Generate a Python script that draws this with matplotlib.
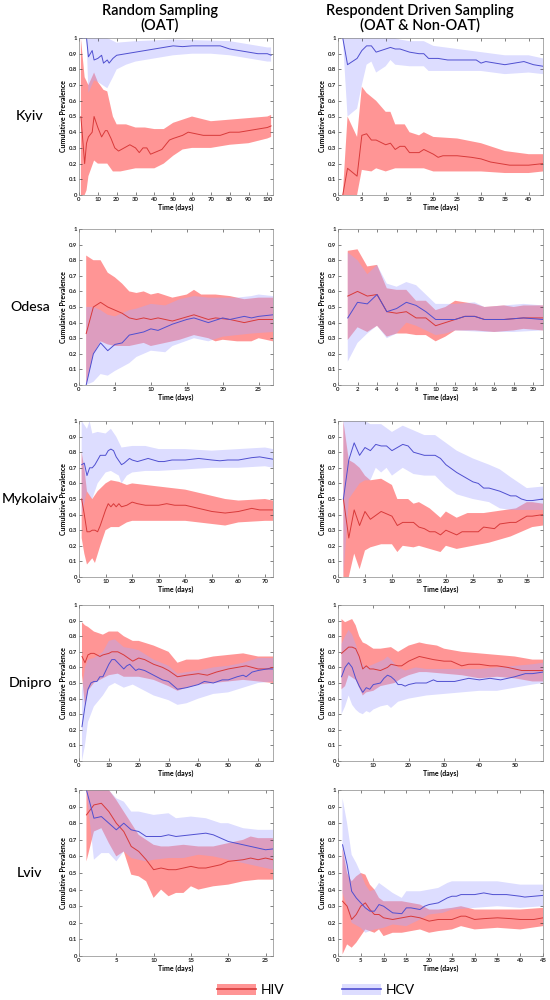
import numpy as np
import matplotlib
matplotlib.use('Agg')
import matplotlib.pyplot as plt
from matplotlib.patches import Patch
from matplotlib.lines import Line2D

plt.rcParams['font.family'] = ['Lato', 'DejaVu Sans']

# each series is a list of (day, value)
# ---- Kyiv, random sampling
kyiv_rs_hiv = [(1, .5), (3, .2), (4, .33), (5, .37), (7, .4), (8, .5), (10, .43), (12, .37), (14, .41), (15, .41), (17, .36), (19, .3), (21, .28), (24, .3), (27, .32), (30, .3), (32, .27), (34, .3), (36, .3), (38, .26), (40, .27), (44, .29), (46, .32), (48, .35), (50, .36), (55, .38), (58, .4), (62, .39), (66, .38), (70, .38), (75, .38), (80, .4), (85, .4), (90, .41), (95, .42), (100, .43), (102, .44)]
kyiv_rs_hiv_lo = [(1, 0), (3, 0), (4, .03), (5, .12), (8, .22), (10, .2), (15, .2), (18, .15), (22, .15), (30, .17), (35, .17), (40, .17), (45, .2), (50, .25), (55, .29), (60, .3), (70, .3), (80, .32), (90, .33), (100, .36), (102, .37)]
kyiv_rs_hiv_hi = [(1, 1), (3, .75), (5, .7), (8, .78), (10, .72), (13, .67), (15, .66), (18, .5), (20, .45), (25, .45), (30, .43), (35, .43), (40, .42), (45, .42), (50, .46), (55, .48), (60, .5), (70, .47), (80, .48), (90, .49), (100, .5), (102, .51)]
kyiv_rs_hcv = [(1, 1), (4, 1), (5, .88), (7, .92), (8, .86), (10, .87), (12, .89), (13, .84), (15, .86), (16, .84), (18, .87), (20, .89), (25, .9), (30, .91), (35, .92), (40, .93), (45, .94), (50, .95), (55, .945), (60, .95), (70, .95), (75, .95), (80, .93), (85, .92), (90, .91), (95, .9), (100, .9), (102, .89)]
kyiv_rs_hcv_lo = [(1, 1), (4, 1), (5, .65), (8, .73), (10, .72), (15, .68), (18, .75), (20, .8), (25, .83), (30, .85), (40, .87), (50, .89), (60, .9), (70, .9), (80, .89), (90, .87), (100, .85), (102, .85)]
kyiv_rs_hcv_hi = [(1, 1), (15, 1), (20, .97), (30, .98), (50, .99), (80, .98), (90, .96), (100, .94), (102, .94)]

# ---- Kyiv, respondent driven sampling
kyiv_rds_hiv = [(1, 0), (2, .17), (4, .12), (5, .38), (6, .39), (7, .35), (8, .35), (10, .32), (11, .33), (12, .29), (13, .31), (14, .31), (15, .27), (17, .27), (18, .29), (20, .26), (21, .24), (22, .25), (25, .25), (28, .24), (30, .23), (32, .21), (34, .2), (36, .19), (37, .19), (40, .19), (43, .2)]
kyiv_rds_hiv_lo = [(1, 0), (2, 0), (4, 0), (5, .16), (7, .15), (8, .17), (10, .15), (12, .17), (15, .17), (18, .17), (20, .15), (25, .15), (30, .15), (35, .14), (40, .14), (43, .15)]
kyiv_rds_hiv_hi = [(1, 0), (2, .5), (4, .37), (5, .69), (6, .65), (8, .6), (10, .53), (11, .53), (12, .45), (14, .45), (15, .4), (17, .38), (18, .4), (20, .37), (25, .36), (30, .33), (33, .3), (35, .28), (40, .26), (43, .26)]
kyiv_rds_hcv = [(1, 1), (2, .83), (4, .87), (5, .92), (6, .95), (7, .95), (8, .91), (10, .93), (11, .94), (12, .93), (13, .93), (15, .91), (17, .9), (18, .9), (19, .87), (21, .87), (23, .86), (25, .86), (27, .86), (29, .86), (30, .84), (31, .85), (33, .84), (35, .83), (37, .84), (39, .85), (41, .83), (43, .82)]
kyiv_rds_hcv_lo = [(1, 1), (2, .5), (4, .55), (5, .7), (6, .83), (7, .85), (8, .78), (10, .82), (11, .86), (12, .83), (15, .82), (18, .82), (19, .79), (22, .79), (25, .79), (30, .79), (35, .77), (40, .78), (43, .77)]
kyiv_rds_hcv_hi = [(1, 1), (12, 1), (13, .99), (15, .98), (18, .98), (20, .95), (25, .93), (30, .91), (35, .89), (40, .89), (43, .87)]

# ---- Odesa, random sampling
odesa_rs_hiv = [(1, .33), (2, .5), (3, .53), (4, .5), (5, .48), (6, .46), (7, .43), (8, .42), (9, .43), (10, .42), (11, .43), (13, .41), (16, .45), (18, .42), (19, .43), (21, .42), (23, .4), (25, .42), (27, .42)]
odesa_rs_hiv_lo = [(1, 0), (2, .2), (3, .28), (4, .26), (5, .25), (7, .25), (9, .27), (10, .25), (12, .27), (14, .29), (16, .32), (18, .3), (19, .28), (20, .29), (22, .28), (24, .28), (25, .3), (27, .28)]
odesa_rs_hiv_hi = [(1, .83), (2, .8), (3, .8), (4, .72), (5, .69), (6, .65), (7, .6), (8, .59), (9, .6), (10, .58), (11, .59), (13, .56), (15, .58), (16, .61), (17, .58), (19, .58), (21, .57), (23, .55), (25, .56), (27, .56)]
odesa_rs_hcv = [(1, 0), (2, .2), (3, .27), (4, .22), (5, .26), (6, .27), (7, .32), (8, .33), (9, .34), (10, .36), (11, .35), (12, .37), (13, .39), (15, .42), (16, .43), (18, .4), (20, .43), (21, .42), (23, .44), (24, .43), (25, .44), (27, .45)]
odesa_rs_hcv_lo = [(1, 0), (2, .02), (3, .07), (4, .06), (5, .09), (7, .14), (8, .18), (10, .22), (12, .21), (13, .25), (16, .3), (18, .28), (20, .31), (22, .32), (24, .33), (27, .34)]
odesa_rs_hcv_hi = [(1, .5), (2, .5), (3, .48), (4, .45), (5, .44), (7, .48), (8, .49), (10, .52), (12, .51), (14, .55), (16, .57), (18, .56), (20, .56), (22, .56), (24, .57), (25, .58), (27, .57)]

# ---- Odesa, respondent driven sampling
odesa_rds_hiv = [(1, .57), (2, .6), (3, .57), (4, .58), (5, .47), (6, .46), (7, .47), (8, .43), (9, .43), (10, .38), (11, .4), (12, .42), (13, .44), (14, .44), (15, .42), (17, .42), (19, .43), (21, .43)]
odesa_rds_hiv_lo = [(1, .29), (2, .37), (3, .34), (4, .38), (5, .31), (6, .33), (7, .33), (8, .32), (9, .32), (10, .28), (11, .31), (12, .35), (14, .35), (16, .34), (18, .35), (19, .36), (21, .35)]
odesa_rds_hiv_hi = [(1, .86), (2, .87), (3, .76), (4, .77), (5, .62), (6, .61), (7, .61), (8, .54), (9, .54), (10, .48), (11, .5), (12, .54), (14, .52), (15, .5), (17, .51), (18, .5), (19, .51), (21, .51)]
odesa_rds_hcv = [(1, .43), (2, .53), (3, .52), (4, .58), (5, .47), (6, .49), (7, .53), (8, .51), (9, .47), (10, .42), (11, .42), (12, .42), (13, .44), (14, .44), (15, .42), (17, .42), (19, .43), (21, .42)]
odesa_rds_hcv_lo = [(1, .15), (2, .27), (3, .33), (4, .38), (5, .3), (6, .33), (7, .4), (8, .38), (9, .35), (10, .32), (11, .33), (12, .35), (15, .34), (18, .34), (21, .35)]
odesa_rds_hcv_hi = [(1, .85), (2, .8), (3, .71), (4, .77), (5, .65), (6, .63), (7, .66), (8, .64), (9, .58), (10, .52), (11, .52), (12, .52), (14, .53), (15, .5), (17, .51), (19, .52), (21, .51)]

# ---- Mykolaiv, random sampling
myk_rs_hiv = [(1, .5), (2, .4), (3, .29), (4, .29), (5, .3), (6, .3), (7, .29), (8, .33), (9, .38), (10, .43), (11, .47), (12, .45), (13, .47), (14, .45), (15, .47), (16, .45), (18, .46), (20, .48), (22, .47), (25, .46), (30, .46), (33, .47), (36, .46), (40, .46), (45, .44), (50, .42), (55, .41), (60, .42), (65, .44), (68, .43), (73, .43)]
myk_rs_hiv_lo = [(1, .25), (2, .15), (3, .08), (5, .12), (6, .09), (8, .2), (10, .3), (12, .32), (15, .32), (18, .35), (20, .36), (30, .36), (40, .36), (50, .34), (55, .33), (60, .35), (70, .36), (73, .36)]
myk_rs_hiv_hi = [(1, .8), (2, .7), (3, .55), (5, .5), (7, .55), (10, .6), (12, .62), (15, .61), (18, .59), (20, .6), (30, .58), (40, .56), (50, .52), (55, .5), (60, .49), (70, .5), (73, .49)]
myk_rs_hcv = [(1, .72), (2, .73), (3, .65), (4, .7), (5, .7), (6, .72), (8, .78), (10, .78), (11, .81), (12, .82), (13, .81), (14, .77), (16, .72), (17, .73), (19, .76), (20, .75), (22, .74), (24, .75), (26, .76), (28, .75), (30, .74), (32, .74), (35, .75), (40, .75), (45, .76), (50, .75), (53, .745), (56, .75), (60, .75), (65, .765), (68, .77), (73, .755)]
myk_rs_hcv_lo = [(1, .4), (3, .55), (4, .52), (5, .5), (7, .6), (10, .67), (12, .68), (15, .65), (16, .6), (18, .65), (20, .67), (25, .68), (30, .68), (40, .69), (50, .7), (60, .7), (70, .71), (73, .7)]
myk_rs_hcv_hi = [(1, 1), (3, .95), (4, 1), (5, .92), (7, .93), (10, .92), (12, .95), (14, .9), (16, .83), (20, .84), (25, .84), (30, .82), (40, .82), (50, .81), (60, .82), (70, .83), (73, .82)]

# ---- Mykolaiv, respondent driven sampling
myk_rds_hiv = [(1, .5), (2, .25), (3, .43), (4, .33), (5, .42), (6, .37), (8, .42), (10, .39), (11, .33), (12, .35), (14, .35), (15, .32), (16, .31), (17, .29), (18, .29), (19, .27), (20, .3), (22, .27), (23, .29), (26, .29), (27, .32), (29, .31), (30, .34), (32, .35), (33, .35), (34, .37), (35, .39), (36, .39), (38, .4)]
myk_rds_hiv_lo = [(1, 0), (2, 0), (3, .15), (4, .05), (5, .17), (6, .19), (8, .21), (10, .21), (11, .16), (12, .2), (14, .19), (15, .2), (17, .18), (19, .16), (20, .2), (22, .18), (25, .2), (28, .22), (30, .24), (32, .26), (34, .29), (36, .32), (38, .33)]
myk_rds_hiv_hi = [(1, 1), (2, .75), (3, .73), (4, .7), (5, .65), (6, .62), (8, .63), (10, .59), (11, .5), (13, .5), (14, .47), (15, .48), (17, .44), (19, .38), (20, .42), (22, .38), (24, .41), (27, .41), (29, .42), (31, .43), (33, .44), (35, .48), (36, .48), (38, .47)]
myk_rds_hcv = [(1, .5), (2, .75), (3, .86), (4, .78), (5, .83), (6, .81), (7, .85), (8, .84), (9, .84), (10, .81), (12, .85), (13, .84), (14, .8), (16, .78), (18, .78), (19, .76), (20, .72), (22, .67), (24, .63), (25, .61), (26, .6), (27, .57), (28, .57), (29, .56), (30, .55), (32, .52), (33, .52), (34, .5), (35, .49), (36, .49), (38, .5)]
myk_rds_hcv_lo = [(1, 0), (2, .5), (3, .55), (4, .6), (5, .62), (6, .62), (7, .7), (8, .67), (9, .7), (10, .65), (12, .7), (14, .66), (16, .65), (18, .65), (20, .58), (22, .53), (25, .5), (28, .48), (30, .44), (32, .43), (35, .43), (38, .43)]
myk_rds_hcv_hi = [(1, 1), (5, 1), (6, .98), (8, .98), (10, .93), (12, .97), (14, .94), (16, .91), (18, .91), (20, .86), (22, .81), (25, .76), (28, .72), (30, .69), (32, .64), (35, .57), (38, .58)]

# ---- Dnipro, random sampling
dnipro_rs_hiv = [(1, .67), (2, .63), (3, .68), (4, .69), (5, .69), (6, .68), (7, .67), (8, .68), (10, .69), (11, .7), (13, .7), (15, .68), (18, .64), (20, .66), (22, .65), (25, .62), (28, .6), (30, .58), (33, .54), (36, .55), (40, .56), (43, .55), (46, .57), (50, .59), (53, .6), (56, .61), (60, .59), (63, .59), (65, .6)]
dnipro_rs_hiv_lo = [(1, .55), (2, .35), (3, .45), (5, .5), (8, .53), (10, .55), (13, .56), (15, .54), (18, .54), (20, .54), (25, .52), (30, .48), (33, .45), (36, .47), (40, .49), (45, .5), (50, .51), (55, .52), (60, .51), (65, .5)]
dnipro_rs_hiv_hi = [(1, .89), (2, .87), (3, .86), (5, .83), (8, .81), (10, .83), (13, .83), (15, .8), (18, .77), (20, .77), (25, .74), (30, .7), (33, .63), (36, .65), (40, .65), (45, .67), (50, .68), (55, .69), (60, .67), (65, .67)]
dnipro_rs_hcv = [(1, .22), (2, .35), (3, .46), (4, .5), (5, .51), (6, .51), (7, .54), (8, .54), (9, .58), (10, .62), (11, .65), (12, .65), (13, .63), (14, .61), (15, .59), (16, .61), (17, .62), (18, .6), (19, .58), (20, .59), (22, .58), (25, .55), (28, .52), (30, .51), (33, .46), (36, .47), (40, .49), (42, .51), (45, .5), (48, .52), (50, .52), (53, .54), (55, .55), (56, .54), (58, .57), (60, .58), (63, .59), (65, .59)]
dnipro_rs_hcv_lo = [(1, 0), (2, .1), (3, .25), (5, .35), (8, .42), (10, .48), (12, .5), (15, .47), (18, .49), (20, .47), (25, .42), (30, .39), (33, .36), (36, .37), (40, .4), (45, .43), (50, .44), (55, .47), (60, .5), (65, .51)]
dnipro_rs_hcv_hi = [(1, .45), (2, .6), (3, .65), (5, .66), (8, .7), (10, .77), (12, .78), (15, .73), (18, .72), (20, .71), (25, .65), (30, .61), (33, .56), (36, .57), (40, .58), (45, .6), (50, .61), (55, .63), (60, .66), (65, .66)]

# ---- Dnipro, respondent driven sampling
dnipro_rds_hiv = [(1, .69), (2, .71), (3, .73), (4, .73), (5, .72), (6, .67), (7, .59), (8, .61), (9, .59), (10, .59), (12, .58), (14, .6), (15, .62), (17, .61), (18, .61), (20, .64), (22, .66), (23, .67), (25, .66), (27, .65), (30, .64), (32, .64), (35, .61), (37, .62), (40, .62), (43, .61), (45, .61), (48, .6), (50, .59), (52, .58), (55, .58), (58, .58)]
dnipro_rds_hiv_lo = [(1, .46), (2, .48), (3, .55), (5, .52), (7, .42), (8, .44), (10, .45), (12, .48), (14, .49), (16, .5), (18, .53), (20, .55), (23, .57), (25, .57), (30, .56), (35, .55), (40, .53), (45, .54), (50, .53), (55, .51), (58, .51)]
dnipro_rds_hiv_hi = [(1, .91), (2, .89), (3, .9), (4, .91), (5, .87), (6, .8), (7, .76), (8, .75), (10, .72), (12, .72), (15, .73), (17, .7), (20, .74), (23, .76), (25, .75), (28, .74), (30, .72), (35, .7), (40, .69), (45, .68), (50, .67), (55, .65), (58, .65)]
dnipro_rds_hcv = [(1, .54), (2, .6), (3, .63), (4, .6), (5, .53), (6, .48), (7, .44), (8, .47), (9, .46), (10, .49), (12, .5), (13, .53), (14, .55), (15, .54), (16, .52), (17, .49), (18, .49), (19, .48), (20, .49), (22, .5), (25, .5), (27, .52), (28, .51), (30, .51), (33, .51), (35, .52), (37, .53), (40, .52), (43, .53), (46, .52), (48, .53), (50, .54), (53, .56), (55, .56), (58, .57)]
dnipro_rds_hcv_lo = [(1, .3), (2, .35), (3, .42), (4, .36), (5, .33), (6, .31), (7, .3), (8, .32), (9, .31), (10, .33), (12, .35), (14, .36), (15, .34), (17, .38), (20, .4), (25, .42), (30, .43), (35, .44), (40, .45), (45, .45), (50, .47), (55, .49), (58, .5)]
dnipro_rds_hcv_hi = [(1, .75), (2, .8), (3, .84), (4, .81), (5, .75), (6, .68), (7, .62), (8, .6), (10, .62), (12, .64), (13, .65), (14, .67), (15, .65), (17, .6), (19, .58), (22, .6), (25, .59), (30, .59), (35, .59), (40, .59), (45, .6), (50, .61), (55, .62), (58, .63)]

# ---- Lviv, random sampling
lviv_rs_hiv = [(1, .85), (2, .91), (3, .92), (4, .87), (5, .8), (6, .75), (7, .66), (8, .63), (9, .58), (10, .52), (11, .53), (12, .52), (13, .52), (15, .54), (16, .53), (17, .53), (19, .55), (20, .57), (22, .58), (23, .59), (24, .58), (25, .59), (26, .58)]
lviv_rs_hiv_lo = [(1, .57), (2, .75), (3, .77), (4, .68), (5, .6), (6, .63), (7, .49), (8, .48), (9, .45), (10, .35), (11, .4), (12, .36), (13, .38), (14, .38), (15, .42), (16, .4), (18, .42), (20, .43), (22, .45), (24, .46), (26, .46)]
lviv_rs_hiv_hi = [(1, 1), (4, 1), (5, .94), (6, .87), (7, .8), (8, .73), (9, .7), (10, .67), (11, .66), (12, .66), (14, .67), (16, .66), (18, .66), (20, .68), (22, .7), (23, .72), (24, .71), (26, .71)]
lviv_rs_hcv = [(1, 1), (2, .83), (3, .84), (4, .8), (5, .76), (6, .8), (7, .76), (8, .75), (9, .72), (10, .72), (11, .72), (12, .73), (13, .72), (15, .73), (17, .74), (18, .73), (19, .71), (20, .69), (22, .67), (24, .65), (25, .64), (26, .645)]
lviv_rs_hcv_lo = [(1, 1), (2, .58), (3, .62), (4, .62), (5, .57), (6, .63), (7, .59), (8, .58), (9, .57), (10, .58), (12, .59), (14, .59), (16, .61), (18, .6), (20, .58), (22, .56), (24, .54), (26, .52)]
lviv_rs_hcv_hi = [(1, 1), (4, 1), (5, .95), (6, .93), (7, .87), (8, .87), (10, .85), (12, .86), (13, .83), (15, .84), (17, .83), (19, .8), (20, .8), (22, .77), (24, .76), (26, .76)]

# ---- Lviv, respondent driven sampling
lviv_rds_hiv = [(1, .33), (2, .3), (3, .22), (4, .25), (5, .3), (6, .32), (7, .28), (8, .25), (9, .25), (10, .23), (12, .22), (14, .23), (16, .24), (18, .23), (20, .21), (22, .22), (25, .22), (27, .24), (28, .24), (30, .22), (32, .225), (35, .23), (38, .225), (40, .22), (43, .22), (45, .23)]
lviv_rds_hiv_lo = [(1, .01), (2, .07), (3, .05), (4, .08), (5, .12), (6, .16), (7, .15), (8, .14), (9, .16), (10, .12), (12, .14), (14, .14), (16, .15), (18, .16), (20, .14), (22, .15), (25, .16), (27, .18), (30, .16), (35, .17), (40, .16), (45, .18)]
lviv_rds_hiv_hi = [(1, .65), (2, .5), (3, .45), (4, .48), (5, .5), (6, .49), (7, .43), (8, .4), (9, .35), (10, .33), (12, .33), (14, .33), (16, .32), (18, .31), (20, .28), (22, .28), (25, .29), (27, .3), (30, .28), (35, .28), (40, .28), (45, .29)]
lviv_rds_hcv = [(1, .67), (2, .55), (3, .39), (4, .35), (5, .32), (6, .29), (7, .27), (8, .27), (9, .31), (10, .3), (11, .28), (12, .26), (14, .255), (15, .29), (16, .29), (18, .28), (19, .3), (20, .31), (22, .32), (24, .35), (25, .36), (26, .36), (27, .37), (30, .37), (32, .38), (34, .37), (37, .37), (40, .36), (41, .355), (43, .36), (45, .365)]
lviv_rds_hcv_lo = [(1, .38), (2, .3), (3, .2), (5, .17), (6, .14), (8, .16), (10, .17), (12, .19), (15, .18), (18, .22), (20, .25), (23, .26), (25, .28), (30, .29), (35, .3), (40, .29), (45, .3)]
lviv_rds_hcv_hi = [(1, .95), (2, .8), (3, .61), (4, .56), (5, .5), (6, .43), (7, .39), (8, .4), (9, .44), (10, .42), (12, .38), (14, .35), (15, .39), (18, .39), (20, .4), (22, .41), (24, .44), (25, .45), (30, .45), (35, .45), (40, .43), (45, .43)]

cities = ['Kyiv', 'Odesa', 'Mykolaiv', 'Dnipro', 'Lviv']
col_titles = ['Random Sampling\n(OAT)', 'Respondent Driven Sampling\n(OAT & Non-OAT)']
x_max = [[103, 43], [27, 21], [73, 38], [65, 58], [26, 45]]
x_step = [[10, 5], [5, 2], [10, 5], [10, 10], [5, 5]]

panels = [
    [(kyiv_rs_hiv, kyiv_rs_hiv_lo, kyiv_rs_hiv_hi, kyiv_rs_hcv, kyiv_rs_hcv_lo, kyiv_rs_hcv_hi),
     (kyiv_rds_hiv, kyiv_rds_hiv_lo, kyiv_rds_hiv_hi, kyiv_rds_hcv, kyiv_rds_hcv_lo, kyiv_rds_hcv_hi)],
    [(odesa_rs_hiv, odesa_rs_hiv_lo, odesa_rs_hiv_hi, odesa_rs_hcv, odesa_rs_hcv_lo, odesa_rs_hcv_hi),
     (odesa_rds_hiv, odesa_rds_hiv_lo, odesa_rds_hiv_hi, odesa_rds_hcv, odesa_rds_hcv_lo, odesa_rds_hcv_hi)],
    [(myk_rs_hiv, myk_rs_hiv_lo, myk_rs_hiv_hi, myk_rs_hcv, myk_rs_hcv_lo, myk_rs_hcv_hi),
     (myk_rds_hiv, myk_rds_hiv_lo, myk_rds_hiv_hi, myk_rds_hcv, myk_rds_hcv_lo, myk_rds_hcv_hi)],
    [(dnipro_rs_hiv, dnipro_rs_hiv_lo, dnipro_rs_hiv_hi, dnipro_rs_hcv, dnipro_rs_hcv_lo, dnipro_rs_hcv_hi),
     (dnipro_rds_hiv, dnipro_rds_hiv_lo, dnipro_rds_hiv_hi, dnipro_rds_hcv, dnipro_rds_hcv_lo, dnipro_rds_hcv_hi)],
    [(lviv_rs_hiv, lviv_rs_hiv_lo, lviv_rs_hiv_hi, lviv_rs_hcv, lviv_rs_hcv_lo, lviv_rs_hcv_hi),
     (lviv_rds_hiv, lviv_rds_hiv_lo, lviv_rds_hiv_hi, lviv_rds_hcv, lviv_rds_hcv_lo, lviv_rds_hcv_hi)],
]

HIV_LINE, HIV_FILL = '#d83a3a', '#ff5555'
HCV_LINE, HCV_FILL = '#4f4fd0', '#aaaaff'

# axes boxes in pixels: (left, top, right, bottom)
col_x = [(79, 273), (338, 543)]
row_y = [(38, 195), (229, 385), (421, 577), (605, 761), (790, 956)]
W, H = 550, 1000


def band(ax, lo, hi, color, alpha):
    lo = np.array(lo)
    hi = np.array(hi)
    xs = np.concatenate([lo[:, 0], hi[::-1, 0]])
    ys = np.concatenate([lo[:, 1], hi[::-1, 1]])
    ax.fill(xs, ys, color=color, alpha=alpha, lw=0)


fig = plt.figure(figsize=(5.5, 10), dpi=100)

for r, city in enumerate(cities):
    t, b = row_y[r]
    for c in range(2):
        l, rr = col_x[c]
        ax = fig.add_axes([l / W, 1 - b / H, (rr - l) / W, (b - t) / H])
        hiv, hiv_lo, hiv_hi, hcv, hcv_lo, hcv_hi = panels[r][c]
        band(ax, hiv_lo, hiv_hi, HIV_FILL, 0.62)
        band(ax, hcv_lo, hcv_hi, HCV_FILL, 0.4)
        a = np.array(hiv)
        ax.plot(a[:, 0], a[:, 1], color=HIV_LINE, lw=0.7)
        a = np.array(hcv)
        ax.plot(a[:, 0], a[:, 1], color=HCV_LINE, lw=0.7)

        ax.set_xlim(0, x_max[r][c])
        ax.set_ylim(0, 1)
        ax.set_xticks(np.arange(0, x_max[r][c] + 0.01, x_step[r][c]))
        ax.set_yticks(np.arange(0, 1.01, 0.1))
        ax.set_yticklabels(['0'] + ['%.1f' % v for v in np.arange(0.1, 0.95, 0.1)] + ['1'])
        ax.tick_params(direction='in', top=True, right=True, length=2, width=0.4,
                       labelsize=4.3, pad=1.5, colors='#222222')
        for lab in ax.get_xticklabels() + ax.get_yticklabels():
            lab.set_fontweight('bold')
        for s in ax.spines.values():
            s.set_linewidth(0.5)
            s.set_color('#888888')
        ax.set_xlabel('Time (days)', fontsize=5, labelpad=1.5, fontweight='bold')
        ax.set_ylabel('Cumulative Prevalence', fontsize=5, labelpad=1.5, fontweight='bold')

    fig.text(30 / W, 1 - ((t + b) / 2) / H, city, ha='center', va='center', fontsize=10.2,
             fontweight='medium')

fig.text(160 / W, 1 - 4 / H, col_titles[0], ha='center', va='top', fontsize=10.5,
         fontweight='semibold', linespacing=1.05)
fig.text(420 / W, 1 - 4 / H, col_titles[1], ha='center', va='top', fontsize=10.5,
         fontweight='semibold', linespacing=1.05)

handles = [(Patch(color=HIV_FILL, alpha=0.62, lw=0), Line2D([], [], color=HIV_LINE, lw=1.2)),
           (Patch(color=HCV_FILL, alpha=0.4, lw=0), Line2D([], [], color=HCV_LINE, lw=1.2))]
fig.legend(handles, ['HIV', 'HCV'], loc='center', bbox_to_anchor=(316 / W, 1 - 990 / H),
           ncol=2, frameon=False, fontsize=10, columnspacing=4.2, handlelength=2.8,
           handleheight=0.9, handletextpad=0.3)

fig.savefig('out.png', dpi=100)
